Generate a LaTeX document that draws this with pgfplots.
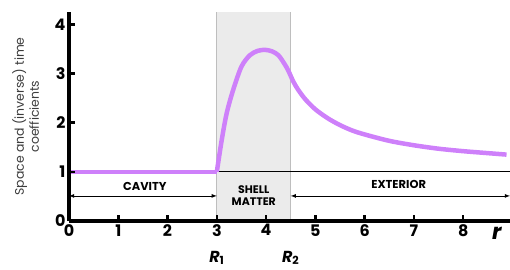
\documentclass[border=0pt]{standalone}
\usepackage{pgfplots}
\pgfplotsset{compat=1.18}
\usepackage{fontspec}
\setmainfont{Poppins}
\newfontfamily\bfont{Poppins Bold}
\definecolor{curve}{RGB}{206,128,250}
\definecolor{shell}{RGB}{235,235,235}
\definecolor{shelledge}{RGB}{190,190,190}
\definecolor{labgray}{RGB}{60,60,60}
\begin{document}
\begin{tikzpicture}
\begin{axis}[
  name=ax, scale only axis, width=441bp, height=209bp,
  xmin=0, xmax=8.95, ymin=0, ymax=4.25,
  axis x line=bottom, axis y line=left,
  axis line style={-, line width=3bp, black},
  xtick={0,...,8}, ytick={0,...,4},
  xticklabels={{\bfont 0},{\bfont 1},{\bfont 2},{\bfont 3},{\bfont 4},{\bfont 5},{\bfont 6},{\bfont 7},{\bfont 8}},
  yticklabels={{\bfont 0},{\bfont 1},{\bfont 2},{\bfont 3},{\bfont 4}},
  tick style={black, line width=2.5bp}, major tick length=6bp, tick align=inside,
  tick label style={font=\fontsize{16}{16}\selectfont},
  ylabel={Space and (inverse) time\\coefficients},
  every axis y label/.append style={at={(axis description cs:-0.0985,0.5)}, anchor=center, align=center, font=\fontsize{12.5}{15}\selectfont, text=labgray},
  clip=false, axis on top=true,
]
\fill[shell] (axis cs:3,0) rectangle (axis cs:4.5,4.25);
\draw[shelledge, line width=1.2bp] (axis cs:3,0) -- (axis cs:3,4.25);
\draw[shelledge, line width=1.2bp] (axis cs:4.5,0) -- (axis cs:4.5,4.25);
\draw[black, line width=0.8bp] (axis cs:3,1) -- (axis cs:8.95,1);
\draw[black, line width=0.8bp, <->, >=latex] (axis cs:0,0.51) -- (axis cs:3,0.51);
\draw[black, line width=0.8bp, <->, >=latex] (axis cs:4.5,0.51) -- (axis cs:8.95,0.51);
\node[font=\bfont\fontsize{11.5}{11.5}\selectfont] at (axis cs:1.54,0.70) {CAVITY};
\node[font=\bfont\fontsize{11}{12}\selectfont, align=center, inner sep=0pt] at (axis cs:3.75,0.52) {SHELL\\MATTER};
\node[font=\bfont\fontsize{11.5}{11.5}\selectfont] at (axis cs:6.69,0.74) {EXTERIOR};
\addplot[curve, line width=4.5bp] coordinates {(0,1) (3,1)};
\addplot[curve, line width=4.5bp, smooth, tension=0.5] coordinates {
(3,1) (3.1,1.65) (3.2,2.19) (3.33,2.66) (3.5,3.14) (3.67,3.37) (3.83,3.46) (3.98,3.48) (4.12,3.45) (4.25,3.37) (4.37,3.2) (4.45,3.06) (4.55,2.84) (4.65,2.67) (4.8,2.47) (5,2.27) (5.25,2.09) (5.5,1.95) (5.75,1.84) (6,1.76) (6.5,1.63) (7,1.54) (7.5,1.47) (8,1.42) (8.5,1.38) (8.88,1.35)};
\node[font=\bfseries\itshape\fontsize{16}{16}\selectfont] at (axis cs:3,0) [yshift=-37bp] {R\textsubscript{\upshape 1}};
\node[font=\bfseries\itshape\fontsize{16}{16}\selectfont] at (axis cs:4.5,0) [yshift=-37bp] {R\textsubscript{\upshape 2}};
\node[font=\bfseries\itshape\fontsize{22}{22}\selectfont] at (axis cs:8.68,0) [yshift=-12bp] {r};
\end{axis}
\pgfresetboundingbox
\useasboundingbox (ax.south west) ++(-69bp,-49bp) rectangle ++(510bp,270bp);
\end{tikzpicture}
\end{document}
